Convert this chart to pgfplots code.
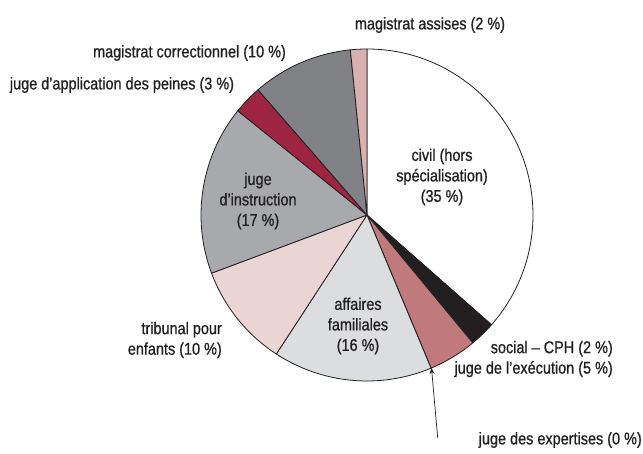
\documentclass[border=0pt]{standalone}
\usepackage{fontspec}
\setmainfont{Liberation Sans}[FakeStretch=0.85, FakeBold=0.8]
\usepackage{pgfplots}
\usepackage{pgfplotstable}
\pgfplotsset{compat=1.18}
\usetikzlibrary{arrows.meta}

\definecolor{cCivil}{HTML}{FFFFFF}
\definecolor{cSocial}{HTML}{231F20}
\definecolor{cExec}{HTML}{C07A7B}
\definecolor{cExpert}{HTML}{C07A7B}
\definecolor{cFam}{HTML}{DCDDDF}
\definecolor{cEnf}{HTML}{EBD5D4}
\definecolor{cInstr}{HTML}{A7A9AC}
\definecolor{cJap}{HTML}{9D2542}
\definecolor{cCorr}{HTML}{808285}
\definecolor{cAss}{HTML}{D8B0B0}
\definecolor{txt}{HTML}{231F20}

% shares in %, clockwise from 12 o'clock
\pgfplotstableread[col sep=comma]{
part,value,colour
civil,36.5,cCivil
social,2.5,cSocial
execution,4.7,cExec
expertises,0.0,cExpert
familiales,15.5,cFam
enfants,10.1,cEnf
instruction,16.5,cInstr
application,2.8,cJap
correctionnel,9.8,cCorr
assises,1.6,cAss
}\piedata

\begin{document}
\begin{tikzpicture}
\begin{axis}[
    x=1pt, y=1pt,
    xmin=0, xmax=643,
    ymin=0, ymax=454,
    hide axis,
    clip=false,
]
\path (rel axis cs:0,0) rectangle (rel axis cs:1,1);

\def\cum{0}
\pgfplotsforeachungrouped \i in {0,...,9} {
    \pgfplotstablegetelem{\i}{value}\of\piedata \let\val\pgfplotsretval
    \pgfplotstablegetelem{\i}{colour}\of\piedata \let\col\pgfplotsretval
    \pgfmathsetmacro\sa{90-3.6*\cum}
    \pgfmathsetmacro\ea{90-3.6*(\cum+\val)}
    \pgfmathsetmacro\cum{\cum+\val}
    \edef\temp{\noexpand\filldraw[fill=\col, draw=txt, line width=0.8pt, line join=round]
        (axis cs:367,239) -- ++(\sa:166pt) arc[start angle=\sa, end angle=\ea, radius=166pt] -- cycle;}
    \temp
}

\tikzset{lbl/.style={font=\fontsize{17}{20.5}\selectfont, text=txt, inner sep=0pt}}

\node[lbl] at (axis cs:430,429) {magistrat assises (2 \%)};
\node[lbl] at (axis cs:189.5,401) {magistrat correctionnel (10 \%)};
\node[lbl] at (axis cs:122,369) {juge d’application des peines (3 \%)};
\node[lbl, align=center] at (axis cs:258,253) {juge\\d’instruction\\(17 \%)};
\node[lbl, align=center] at (axis cs:442,277) {civil (hors\\spécialisation)\\(35 \%)};
\node[lbl, align=center] at (axis cs:358,128) {affaires\\familiales\\(16 \%)};
\node[lbl, align=right, anchor=east] at (axis cs:222,114) {tribunal pour\\enfants (10 \%)};
\node[lbl, align=right, anchor=east] at (axis cs:613,95) {social – CPH (2 \%)\\juge de l’exécution (5 \%)};
\node[lbl, anchor=east] at (axis cs:642,14) {juge des expertises (0 \%)};

\draw[txt, line width=0.7pt, -{Stealth[length=6pt, width=5pt]}] (axis cs:437.7,16) -- (axis cs:431.5,86);
\end{axis}
\end{tikzpicture}
\end{document}
